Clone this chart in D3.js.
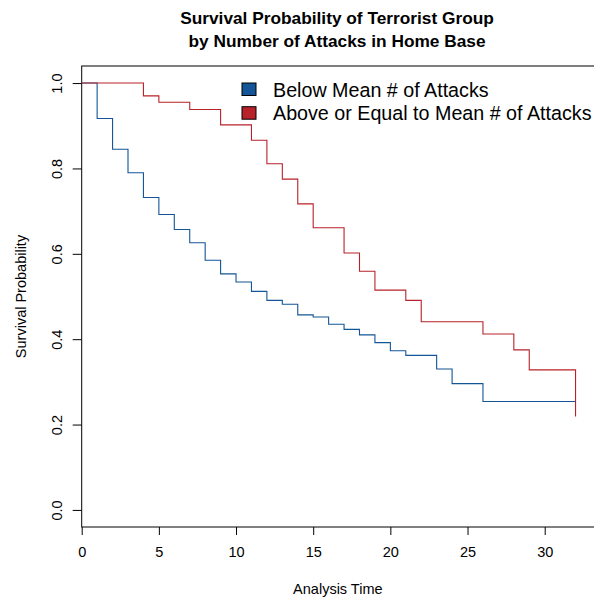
<!DOCTYPE html>
<html>
<head>
<meta charset="utf-8">
<script src="https://cdn.jsdelivr.net/npm/d3@7"></script>
<style>
  html, body { margin: 0; padding: 0; background: #fff; }
  svg { display: block; font-family: "Liberation Sans", Arial, Helvetica, sans-serif; }
</style>
</head>
<body>
<svg id="chart" width="594" height="597"></svg>
<script>
// ---- Data ----
const titleLines = ["Survival Probability of Terrorist Group", "by Number of Attacks in Home Base"];
const xLabel = "Analysis Time";
const yLabel = "Survival Probability";
const seriesNames = ["Below Mean # of Attacks", "Above or Equal to Mean # of Attacks"];
const seriesColors = ["#135596", "#b8222a"];

const xTicks = [0, 5, 10, 15, 20, 25, 30];
const yTicks = [0.0, 0.2, 0.4, 0.6, 0.8, 1.0];

const endTime = 32;

// Below mean group: event times and survival after each time
const blueTimes = [0, 1, 2, 3, 4, 5, 6, 7, 8, 9, 10, 11, 12, 13, 14, 15, 16, 17, 18, 19, 20, 21, 23, 24, 26];
const blueSurv  = [1.000, 0.917, 0.845, 0.790, 0.732, 0.692, 0.657, 0.626, 0.585, 0.553, 0.534, 0.512, 0.491, 0.482, 0.457, 0.452, 0.435, 0.423, 0.410, 0.392, 0.373, 0.362, 0.330, 0.296, 0.254];

// Above or equal to mean group
const redTimes = [0, 4, 5, 7, 9, 11, 12, 13, 14, 15, 17, 18, 19, 21, 22, 26, 28, 29, 32];
const redSurv  = [1.000, 0.970, 0.955, 0.938, 0.902, 0.866, 0.811, 0.775, 0.717, 0.661, 0.602, 0.559, 0.515, 0.491, 0.441, 0.412, 0.375, 0.328, 0.219];

// ---- Layout ----
const svg = d3.select("#chart");
const plotLeft = 81.7, plotRight = 595, plotTop = 66, plotBottom = 527;

const x = d3.scaleLinear().domain([0, 33.26]).range([plotLeft, plotRight]);
const y = d3.scaleLinear().domain([-0.04, 1.04]).range([plotBottom, plotTop]);

// Box
svg.append("rect")
  .attr("x", x(0)).attr("y", y(1.04))
  .attr("width", x(33.26) - x(0)).attr("height", y(-0.04) - y(1.04))
  .attr("fill", "none").attr("stroke", "#000").attr("stroke-width", 1);

// X axis
const xAxis = svg.append("g")
  .attr("transform", `translate(0,${plotBottom})`)
  .call(d3.axisBottom(x).tickValues(xTicks).tickSize(8).tickSizeOuter(0).tickPadding(12).tickFormat(d3.format("d")));
xAxis.select(".domain").remove();
xAxis.selectAll("text").attr("font-size", 14.5).attr("fill", "#000").attr("font-family", null);
xAxis.selectAll("line").attr("stroke", "#000");

// Y axis
const yAxis = svg.append("g")
  .attr("transform", `translate(${plotLeft},0)`)
  .call(d3.axisLeft(y).tickValues(yTicks).tickSize(9).tickSizeOuter(0).tickFormat(d3.format(".1f")));
yAxis.select(".domain").remove();
yAxis.selectAll("line").attr("stroke", "#000");
yAxis.selectAll("text").remove();
yAxis.selectAll(".tick").append("text")
  .attr("transform", "translate(-20,0) rotate(-90)")
  .attr("text-anchor", "middle")
  .attr("fill", "#000")
  .attr("font-size", 14.5)
  .text(d => d3.format(".1f")(d));

// Curves
const stepLine = d3.line()
  .x(d => x(d[0]))
  .y(d => y(d[1]))
  .curve(d3.curveStepAfter);

const blueData = blueTimes.map((t, i) => [t, blueSurv[i]]);
blueData.push([endTime, blueSurv[blueSurv.length - 1]]);
const redData = redTimes.map((t, i) => [t, redSurv[i]]);

svg.append("path").datum(blueData)
  .attr("d", stepLine).attr("fill", "none")
  .attr("stroke", seriesColors[0]).attr("stroke-width", 1.1);
svg.append("path").datum(redData)
  .attr("d", stepLine).attr("fill", "none")
  .attr("stroke", seriesColors[1]).attr("stroke-width", 1.1);

// Title
svg.append("g").selectAll("text").data(titleLines).join("text")
  .attr("x", 337).attr("y", (d, i) => 24 + i * 23)
  .attr("text-anchor", "middle")
  .attr("font-weight", "bold")
  .attr("font-size", 17.3)
  .text(d => d);

// Axis titles
svg.append("text")
  .attr("x", (plotLeft + 594) / 2).attr("y", 594)
  .attr("text-anchor", "middle").attr("font-size", 14.5)
  .text(xLabel);
svg.append("text")
  .attr("transform", `translate(26,${(plotTop + plotBottom) / 2}) rotate(-90)`)
  .attr("text-anchor", "middle").attr("font-size", 14.5)
  .text(yLabel);

// Legend
const legend = svg.append("g").attr("transform", "translate(242,83)");
const items = legend.selectAll("g").data(seriesNames).join("g")
  .attr("transform", (d, i) => `translate(0,${i * 23.7})`);
items.append("rect")
  .attr("x", 0).attr("y", 0).attr("width", 14).attr("height", 12.5)
  .attr("fill", (d, i) => seriesColors[i])
  .attr("stroke", "#000").attr("stroke-width", 1);
items.append("text")
  .attr("x", 31).attr("y", 13.5)
  .attr("font-size", 19.7)
  .text(d => d);
</script>
</body>
</html>
